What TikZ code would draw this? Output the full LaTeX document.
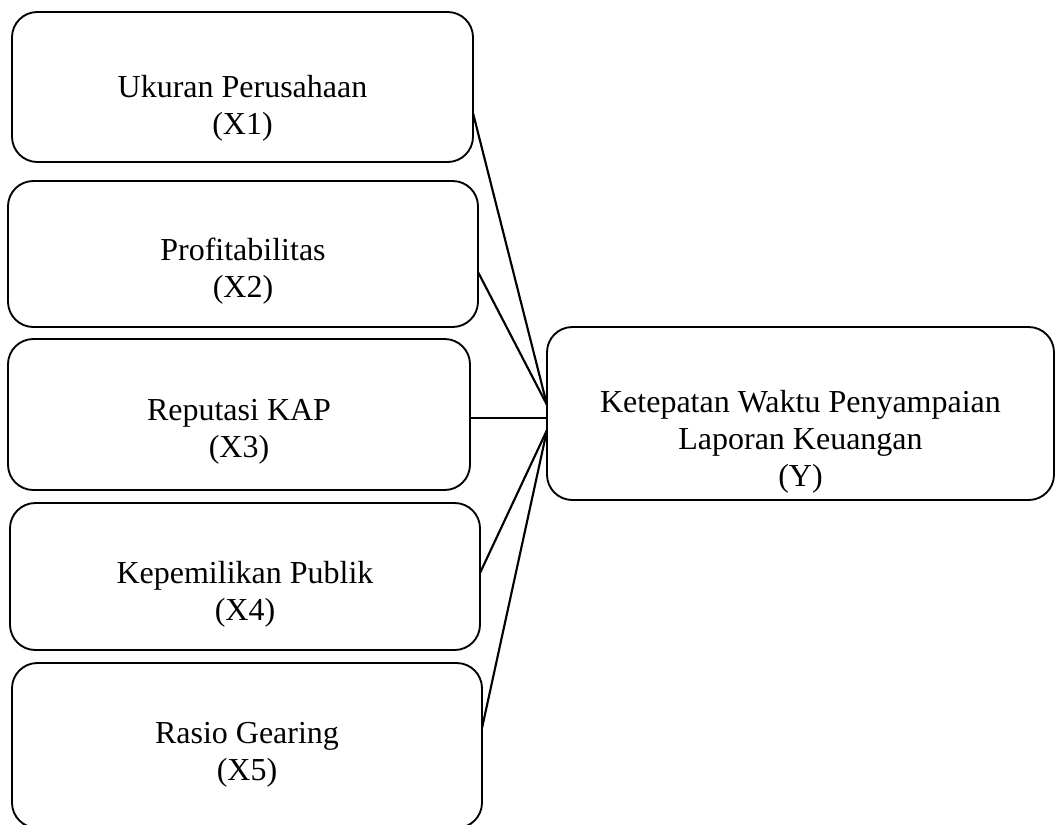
\documentclass[tikz,border=0pt]{standalone}
\usepackage{fontspec}
\setmainfont{Liberation Serif}
\tikzset{
	varbox/.style={draw, line width=1.4pt, rounded corners=19pt, inner sep=0pt, outer sep=0pt},
	vartext/.style={align=center, font=\fontsize{24}{27.75}\selectfont},
	link/.style={line width=1.6pt}
}
\begin{document}
\begin{tikzpicture}[x=0.75pt, y=-0.75pt]
	\useasboundingbox (0,0) rectangle (1058,825);
	%X1
	\node[varbox, minimum width=345.75pt, minimum height=112.5pt] (x1) at (242.5,87) {};
	\node[vartext] (x1t) at (242.5,108) {Ukuran Perusahaan\\(X1)};
	%X2
	\node[varbox, minimum width=352.5pt, minimum height=109.5pt] (x2) at (243,254) {};
	\node[vartext] (x2t) at (243,271) {Profitabilitas\\(X2)};
	%X3
	\node[varbox, minimum width=346.5pt, minimum height=113.25pt] (x3) at (239,414.5) {};
	\node[vartext] (x3t) at (239,432) {Reputasi KAP\\(X3)};
	%X4
	\node[varbox, minimum width=352.5pt, minimum height=110.25pt] (x4) at (245,576.5) {};
	\node[vartext] (x4t) at (245,594) {Kepemilikan Publik\\(X4)};
	%X5
	\node[varbox, minimum width=352.5pt, minimum height=123.75pt] (x5) at (247,745.5) {};
	\node[vartext] (x5t) at (247,755) {Rasio Gearing\\(X5)};
	%Y
	\node[varbox, minimum width=380.25pt, minimum height=129.75pt] (y) at (800.5,413.5) {};
	\node[vartext] (yt) at (800.5,442) {Ketepatan Waktu Penyampaian\\Laporan Keuangan\\(Y)};

	%links
	\draw[link] ([yshift=-19.5pt]x1.east) -- ([yshift=6.4pt]y.west);
	\draw[link] ([yshift=-13.5pt]x2.east) -- ([yshift=6.4pt]y.west);
	\draw[link] ([yshift=-2.6pt]x3.east) coordinate (x3e) -- (x3e -| y.west);
	\draw[link] ([yshift=2.6pt]x4.east) -- ([yshift=-12.4pt]y.west);
	\draw[link] ([yshift=13pt]x5.east) -- ([yshift=-12.4pt]y.west);
\end{tikzpicture}
\end{document}
